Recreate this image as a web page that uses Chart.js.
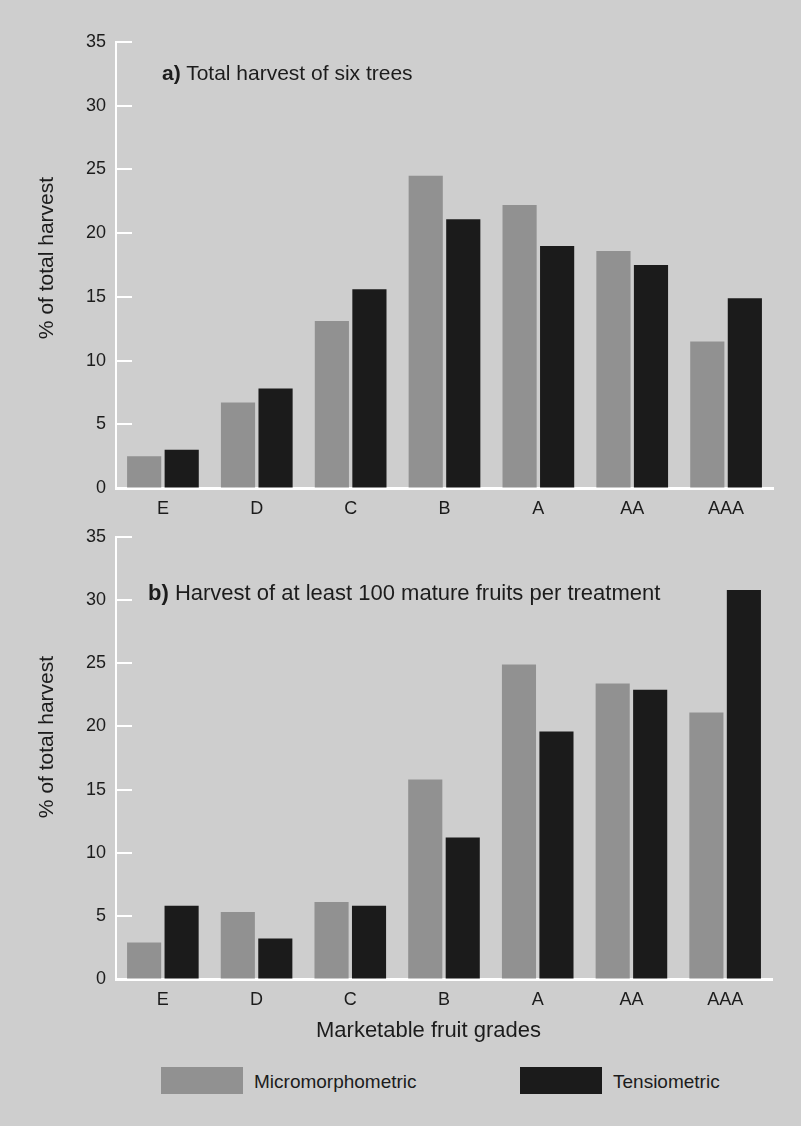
<!DOCTYPE html>
<html>
<head>
<meta charset="utf-8">
<script src="https://cdn.jsdelivr.net/npm/chart.js@4.4.1/dist/chart.umd.min.js"></script>
<style>
  html, body { margin: 0; padding: 0; }
  body { width: 801px; height: 1126px; background: #cecece; position: relative; overflow: hidden;
         font-family: "Liberation Sans", Arial, Helvetica, sans-serif; color: #1c1c1c; }
  canvas { position: absolute; left: 0; }
  .txt { position: absolute; white-space: nowrap; line-height: 1; }
  .ytitle { position: absolute; white-space: nowrap; line-height: 1; font-size: 21px;
            transform: translate(-50%, -50%) rotate(-90deg); }
  .swatch { position: absolute; width: 82px; height: 27px; }
</style>
</head>
<body>
<canvas id="panelA" width="801" height="530" style="top:0"></canvas>
<canvas id="panelB" width="801" height="530" style="top:500px"></canvas>

<div class="txt" style="left:162px; top:62px; font-size:21px;"><b>a)</b> Total harvest of six trees</div>
<div class="txt" style="left:148px; top:582px; font-size:22px;"><b>b)</b> Harvest of at least 100 mature fruits per treatment</div>
<div class="ytitle" style="left:45px; top:258px;">% of total harvest</div>
<div class="ytitle" style="left:45px; top:737px;">% of total harvest</div>
<div class="txt" style="left:316px; top:1019px; font-size:22px;">Marketable fruit grades</div>
<div id="legend"></div>

<script>
// Marketable fruit grades on the x axis
const grades = ['E', 'D', 'C', 'B', 'A', 'AA', 'AAA'];

// a) Total harvest of six trees (% of total harvest)
const microTotal  = [2.5, 6.7, 13.1, 24.5, 22.2, 18.6, 11.5];
const tensioTotal = [3.0, 7.8, 15.6, 21.1, 19.0, 17.5, 14.9];

// b) Harvest of at least 100 mature fruits per treatment
const microHundred  = [2.9, 5.3, 6.1, 15.8, 24.9, 23.4, 21.1];
const tensioHundred = [5.8, 3.2, 5.8, 11.2, 19.6, 22.9, 30.8];

// y axis ticks
const yTicks = [0, 5, 10, 15, 20, 25, 30, 35];

const seriesNames = ['Micromorphometric', 'Tensiometric'];
const seriesColors = ['#919191', '#1b1b1b'];

// short white tick marks drawn inward from the y axis
const innerTicks = {
  id: 'innerTicks',
  afterDraw(chart) {
    const { ctx, chartArea, scales } = chart;
    const y = scales.y;
    ctx.save();
    ctx.strokeStyle = '#ffffff';
    ctx.lineWidth = 2;
    y.ticks.forEach(t => {
      if (t.value === 0) return;
      const py = Math.round(y.getPixelForValue(t.value));
      ctx.beginPath();
      ctx.moveTo(chartArea.left, py);
      ctx.lineTo(chartArea.left + 16, py);
      ctx.stroke();
    });
    ctx.restore();
  }
};

function makeChart(id, micro, tensio, pad, xHeight) {
  return new Chart(document.getElementById(id), {
    type: 'bar',
    data: {
      labels: grades,
      datasets: [
        { label: seriesNames[0], data: micro, backgroundColor: seriesColors[0] },
        { label: seriesNames[1], data: tensio, backgroundColor: seriesColors[1] }
      ]
    },
    options: {
      responsive: false,
      animation: false,
      devicePixelRatio: 1,
      categoryPercentage: 0.8,
      barPercentage: 0.91,
      layout: { padding: pad },
      plugins: { legend: { display: false }, tooltip: { enabled: false } },
      scales: {
        x: {
          grid: { display: true, drawOnChartArea: false, drawTicks: false },
          border: { display: true, color: '#ffffff', width: 3 },
          ticks: { color: '#1c1c1c', padding: 10,
                   font: { family: '"Liberation Sans", Arial, sans-serif', size: 18 } },
          afterFit: s => { s.height = xHeight; }
        },
        y: {
          min: 0, max: 35,
          afterBuildTicks: s => { s.ticks = yTicks.map(v => ({ value: v })); },
          grid: { display: true, drawOnChartArea: false, drawTicks: false },
          border: { display: true, color: '#ffffff', width: 2 },
          ticks: { color: '#1c1c1c', padding: 10,
                   font: { family: '"Liberation Sans", Arial, sans-serif', size: 18 } },
          afterFit: s => { s.width = 116; }
        }
      }
    },
    plugins: [innerTicks]
  });
}

makeChart('panelA', microTotal, tensioTotal, { left: 0, right: 28, top: 42, bottom: 0 }, 42);
makeChart('panelB', microHundred, tensioHundred, { left: 0, right: 29, top: 37, bottom: 0 }, 51);

// legend built from the series names and colours
const legend = document.getElementById('legend');
const legendPos = [{ sw: 161, tx: 254 }, { sw: 520, tx: 613 }];
seriesNames.forEach((name, i) => {
  const sw = document.createElement('div');
  sw.className = 'swatch';
  sw.style.left = legendPos[i].sw + 'px';
  sw.style.top = '1067px';
  sw.style.background = seriesColors[i];
  legend.appendChild(sw);
  const tx = document.createElement('div');
  tx.className = 'txt';
  tx.style.left = legendPos[i].tx + 'px';
  tx.style.top = '1072px';
  tx.style.fontSize = '19px';
  tx.textContent = name;
  legend.appendChild(tx);
});
</script>
</body>
</html>
